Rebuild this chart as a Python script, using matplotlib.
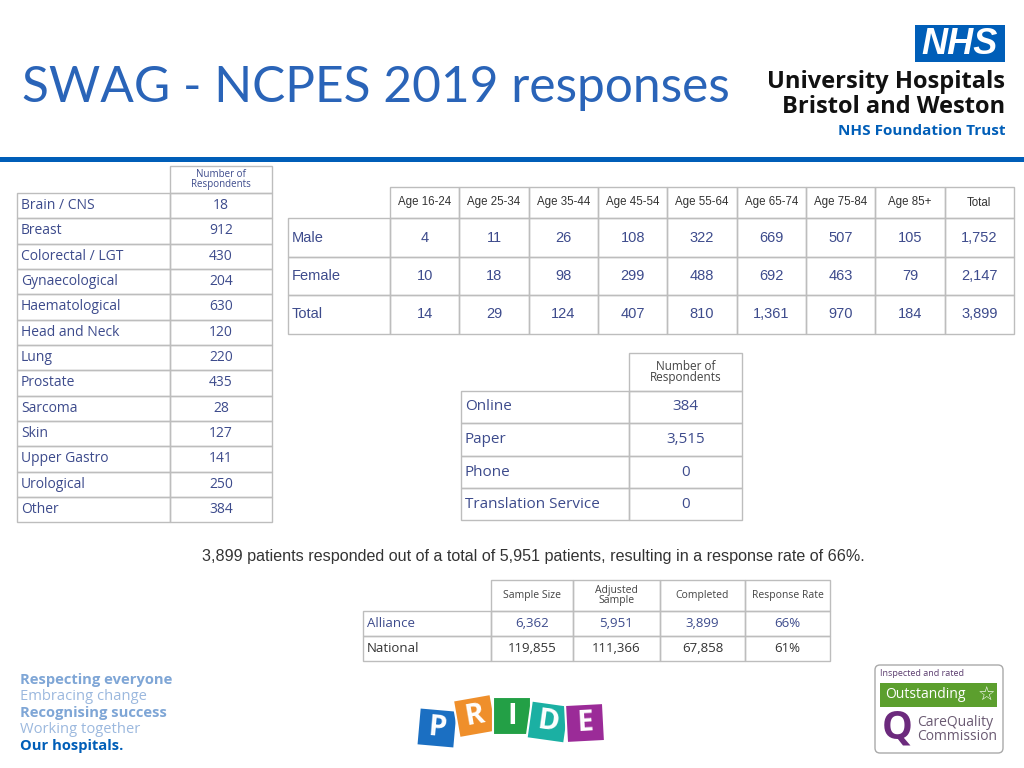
import matplotlib.pyplot as plt
from matplotlib.patches import Rectangle, FancyBboxPatch
from matplotlib import transforms

# ---- data ----
title = "SWAG - NCPES 2019 responses"

tumour_groups = ["Brain / CNS", "Breast", "Colorectal / LGT", "Gynaecological",
                 "Haematological", "Head and Neck", "Lung", "Prostate", "Sarcoma",
                 "Skin", "Upper Gastro", "Urological", "Other"]
tumour_counts = ["18", "912", "430", "204", "630", "120", "220", "435", "28",
                 "127", "141", "250", "384"]

age_bands = ["Age 16-24", "Age 25-34", "Age 35-44", "Age 45-54", "Age 55-64",
             "Age 65-74", "Age 75-84", "Age 85+", "Total"]
sex_rows = ["Male", "Female", "Total"]
male = ["4", "11", "26", "108", "322", "669", "507", "105", "1,752"]
female = ["10", "18", "98", "299", "488", "692", "463", "79", "2,147"]
total = ["14", "29", "124", "407", "810", "1,361", "970", "184", "3,899"]

modes = ["Online", "Paper", "Phone", "Translation Service"]
mode_counts = ["384", "3,515", "0", "0"]

summary = ("3,899 patients responded out of a total of 5,951 patients, "
           "resulting in a response rate of 66%.")

rate_cols = ["Sample Size", "Adjusted\nSample", "Completed", "Response Rate"]
rate_rows = ["Alliance", "National"]
alliance = ["6,362", "5,951", "3,899", "66%"]
national = ["119,855", "111,366", "67,858", "61%"]

values_lines = ["Respecting everyone", "Embracing change", "Recognising success",
                "Working together", "Our hospitals."]

NHS_BLUE = "#005EB8"
TXT = "#3d4b8c"
GRID = "#bdbdbd"
FONT = ["Open Sans", "DejaVu Sans"]
NARROW = ["Liberation Sans", "DejaVu Sans"]

fig = plt.figure(figsize=(10.24, 7.68), dpi=100)
ax = fig.add_axes([0, 0, 1, 1])
ax.set_xlim(0, 1024)
ax.set_ylim(768, 0)
ax.axis("off")


def box(x0, y0, x1, y1, lw=1.0, ec=GRID, fc="none", **kw):
    ax.add_patch(Rectangle((x0, y0), x1 - x0, y1 - y0, lw=lw, ec=ec, fc=fc, **kw))


def table(xs, ys, cells, colors, sizes, aligns, family, header_skip_first=True):
    # xs: column edges, ys: row edges; cells[r][c]
    for r in range(len(ys) - 1):
        for c in range(len(xs) - 1):
            if r == 0 and c == 0 and header_skip_first:
                continue
            box(xs[c], ys[r], xs[c + 1], ys[r + 1])
            txt = cells[r][c]
            if not txt:
                continue
            ha = aligns[r][c]
            x = xs[c] + 4 if ha == "left" else (xs[c] + xs[c + 1]) / 2
            ax.text(x, (ys[r] + ys[r + 1]) / 2, txt, ha=ha, va="center",
                    color=colors[r][c], fontsize=sizes[r][c], family=family,
                    linespacing=0.85)


# ---- header ----
ax.text(22, 88, title, fontsize=35.7, color="#2a64b8", family=["Lato", "DejaVu Sans"],
        va="center", ha="left")
ax.add_patch(Rectangle((915, 25), 90, 37, fc=NHS_BLUE, ec="none"))
ax.text(960, 44, "NHS", color="white", fontsize=26, fontweight="bold", style="italic",
        ha="center", va="center", family=["Liberation Sans", "DejaVu Sans"])
ax.text(1005, 82, "University Hospitals", ha="right", va="center", fontsize=17,
        fontweight="bold", color="#111111", family=FONT)
ax.text(1005, 107, "Bristol and Weston", ha="right", va="center", fontsize=17,
        fontweight="bold", color="#111111", family=FONT)
ax.text(1005, 131, "NHS Foundation Trust", ha="right", va="center", fontsize=11,
        fontweight="bold", color=NHS_BLUE, family=FONT)
ax.add_patch(Rectangle((0, 157), 1024, 5, fc=NHS_BLUE, ec="none"))

# ---- tumour group table ----
n = len(tumour_groups)
xs = [17, 170, 272]
ys = [166, 193] + [193 + 25.33 * (i + 1) for i in range(n)]
cells = [["", "Number of\nRespondents"]] + [[g, v] for g, v in zip(tumour_groups, tumour_counts)]
colors = [[TXT, TXT]] * (n + 1)
sizes = [[7, 7]] + [[10, 10]] * n
aligns = [["left", "center"]] + [["left", "center"]] * n
table(xs, ys, cells, colors, sizes, aligns, FONT)

# ---- age / sex table ----
xs = [288] + [390 + 69.33 * i for i in range(len(age_bands) + 1)]
ys = [187, 218, 257, 295, 334]
cells = [[""] + age_bands] + [[s] + row for s, row in zip(sex_rows, [male, female, total])]
colors = [["#333333"] * 10] + [[TXT] * 10] * 3
sizes = [[8.3] * 10] + [[10.5] * 10] * 3
aligns = [["left"] + ["center"] * 9] * 4
table(xs, ys, cells, colors, sizes, aligns, NARROW)

# ---- mode table ----
xs = [461, 629, 742]
ys = [353, 391, 423, 456, 488, 520]
cells = [["", "Number of\nRespondents"]] + [[m, v] for m, v in zip(modes, mode_counts)]
colors = [["#444444"] * 2] + [[TXT] * 2] * 4
sizes = [[8.5, 8.5]] + [[11, 11]] * 4
aligns = [["left", "center"]] * 5
table(xs, ys, cells, colors, sizes, aligns, FONT)

ax.text(202, 556, summary, ha="left", va="center", fontsize=11.6, color="#333333",
        family=NARROW)

# ---- response rate table ----
xs = [363, 491, 573, 660, 745, 830]
ys = [580, 611, 636, 661]
cells = [[""] + rate_cols, [rate_rows[0]] + alliance, [rate_rows[1]] + national]
colors = [["#444444"] * 5, [TXT] * 5, ["#333333"] * 5]
sizes = [[7.5] * 5, [9.5] * 5, [9.5] * 5]
aligns = [["left"] + ["center"] * 4] * 3
table(xs, ys, cells, colors, sizes, aligns, FONT)

# ---- footer: values ----
val_colors = ["#7fa6d6", "#9bb8de", "#7fa6d6", "#9bb8de", NHS_BLUE]
val_weights = ["bold", "normal", "bold", "normal", "bold"]
for i, (line, col, w) in enumerate(zip(values_lines, val_colors, val_weights)):
    ax.text(20, 680 + 16.5 * i, line, ha="left", va="center", fontsize=10.6,
            color=col, fontweight=w, family=FONT)

# ---- PRIDE logo ----
pride = [("P", "#1b6fc2", 437, 728, 5), ("R", "#ef8f2b", 475, 716, -10),
         ("I", "#23a046", 512, 716, 0), ("D", "#1bb0a3", 548, 722, 8),
         ("E", "#9b2b98", 585, 723, -3)]
for letter, col, cx, cy, rot in pride:
    tr = transforms.Affine2D().rotate_deg_around(cx, cy, rot) + ax.transData
    ax.add_patch(Rectangle((cx - 19, cy - 19), 38, 38, fc=col, ec="white", lw=1.5,
                           transform=tr))
    ax.text(cx, cy, letter, color="white", fontsize=21, fontweight="bold",
            ha="center", va="center", rotation=-rot, family=FONT)

# ---- CQC badge ----
ax.add_patch(FancyBboxPatch((875, 665), 128, 88, boxstyle="round,pad=0,rounding_size=5",
                            fc="white", ec="#aaaaaa", lw=1))
ax.text(880, 674, "Inspected and rated", fontsize=6.5, color="#5b3c6e",
        va="center", family=FONT)
ax.add_patch(Rectangle((880, 683), 117, 24, fc="#5c9f2e", ec="none"))
ax.text(885, 695, "Outstanding", fontsize=10, color="white", va="center", family=FONT)
ax.text(986, 695, "\u2606", fontsize=14, color="white", va="center", ha="center",
        family=["DejaVu Sans"])
ax.text(897, 728, "Q", fontsize=28, color="#6c2a7d", fontweight="bold",
        va="center", ha="center", family=FONT)
ax.text(917, 722, "CareQuality", fontsize=10, color="#6a5a72", va="center", family=FONT)
ax.text(917, 736, "Commission", fontsize=10, color="#6a5a72", va="center", family=FONT)

fig.savefig("out.png", dpi=100)
